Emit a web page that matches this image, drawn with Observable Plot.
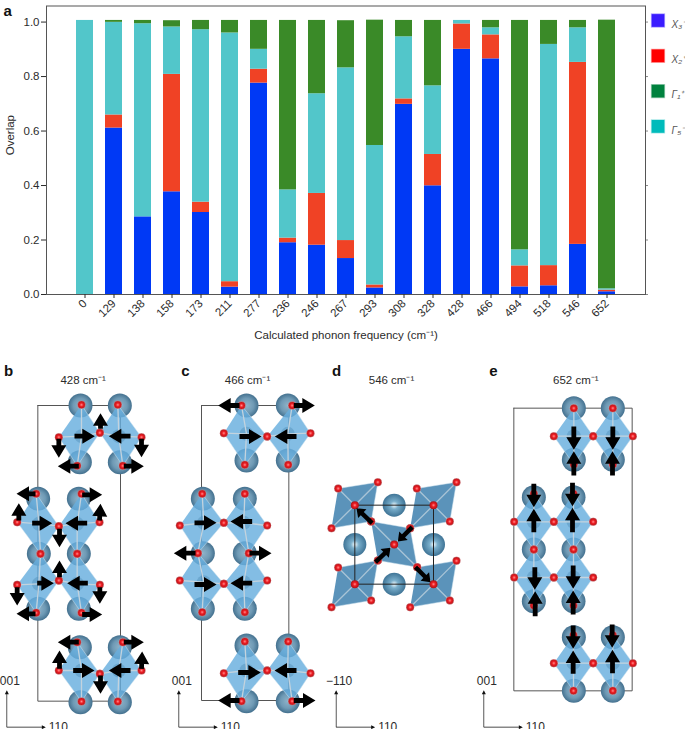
<!DOCTYPE html>
<html><head><meta charset="utf-8">
<script src="https://cdn.jsdelivr.net/npm/d3@7"></script>
<script src="https://cdn.jsdelivr.net/npm/@observablehq/plot@0.6"></script>
<style>html,body{margin:0;padding:0;background:#fff}svg{display:block}</style>
</head><body><div id="chart"></div>
<script>
// ---- panel a data
const frequencies = ["0","129","138","158","173","211","277","236","246","267","293","308","328","428","466","494","518","546","652"];
const seriesX3 = [0,.611,.285,.377,.301,.027,.776,.190,.181,.132,.024,.698,.399,.900,.865,.028,.032,.184,.010];
const seriesX2 = [0,.048,0,.431,.038,.020,.051,.017,.190,.066,.011,.020,.115,.093,.088,.077,.074,.668,.006];
const seriesG5 = [1.006,.340,.709,.174,.633,.913,.073,.177,.366,.634,.512,.228,.252,.013,.026,.059,.812,.127,.005];
const seriesG1 = [0,.007,.012,.023,.034,.046,.106,.622,.269,.173,.460,.060,.240,0,.027,.842,.088,.027,.986];
const stackNames = ["X3","X2","G5","G1"];
const stackColors = ["#0039f5","#f04225","#52c6ca","#3a8a28"];
const legendLabels = ["X₃⁻","X₂⁺","Γ₁⁺","Γ₅⁻"];
const legendColors = ["#3a1cff","#ff0000","#00823e","#00bbbb"];
const yTicks = [0,.2,.4,.6,.8,1];

// ---- panels b-e: positions, one row per octahedron: centre, top, right, bottom, left
const octasB = [
 [243,227,243,133,298,217,230,316,175,230],[355,227,352,133,423,230,367,316,298,217],
 [115,490,107,400,175,497,120,580,50,485],[230,490,243,400,297,485,230,580,175,497],
 [115,670,120,580,175,660,107,757,50,673],[230,670,230,580,298,673,243,757,175,660],
 [243,930,230,845,298,940,243,1023,175,930],[355,930,367,845,423,930,352,1023,298,940]];
const ballsB = [[240,135],[358,135],[238,305],[358,305],[113,415],[235,415],[115,580],[235,580],[113,745],[235,745],[238,860],[358,860],[240,1025],[358,1025]];
const arrowsB = [[222,227,283,227],[390,227,325,227],[300,205,300,158],[175,235,175,292],[423,235,423,290],[235,317,172,317],[370,317,430,317],
 [105,400,48,400],[245,403,305,403],[55,480,55,428],[297,480,300,430],[95,488,155,488],[260,488,195,488],[177,505,177,560],[177,650,177,600],[110,668,160,668],[262,668,200,668],[50,680,50,735],[298,680,298,730],[105,760,48,760],[245,762,305,762],
 [235,845,172,845],[370,845,430,845],[177,925,177,870],[423,925,425,873],[218,930,282,930],[390,930,325,930],[300,945,300,1000]];
const octasC = [
 [243,220,228,135,305,228,238,313,175,218],[367,220,380,135,435,218,368,313,305,228],
 [115,487,110,400,175,487,97,578,43,495],[235,487,238,400,305,495,250,578,175,487],
 [115,665,97,578,175,670,110,755,43,660],[235,665,250,578,305,660,238,755,175,670],
 [243,930,238,843,305,930,228,1022,175,938],[367,930,368,843,435,938,380,1022,305,930]];
const ballsC = [[243,135],[367,135],[243,300],[367,300],[112,415],[238,415],[112,578],[238,578],[112,745],[238,745],[243,855],[367,855],[243,1022],[367,1022]];
const arrowsC = [[222,135,158,135],[385,135,448,135],[222,228,288,228],[393,228,328,228],[87,487,153,487],[260,483,195,483],[90,578,25,578],[252,578,318,578],[87,672,153,672],[260,668,195,668],[218,936,286,936],[393,930,327,930],[222,1020,158,1020],[385,1020,450,1020]];
const octasD = [
 [103,434,53,384,172,365,152,483,33,503],[339,434,289,384,408,365,388,483,269,503],
 [221,552,152,483,269,503,290,620,172,600],
 [103,671,53,621,172,600,152,720,33,740],[339,671,290,620,408,601,388,720,269,740]];
const ballsD = [[221,434],[103,552],[339,552],[221,671]];
const arrowsD = [[155,488,108,443],[275,500,232,543],[165,605,210,562],[285,620,330,665]];
const octasE = [
 [250,227,250,143,308,227,250,312,190,227],[367,227,367,143,427,227,367,312,308,227],
 [130,484,130,400,190,484,130,567,71,484],[249,484,249,400,308,484,249,567,190,484],
 [130,651,130,567,190,651,130,735,71,651],[249,651,249,567,308,651,249,735,190,651],
 [249,908,249,824,308,908,249,991,190,908],[367,908,367,824,427,908,367,991,308,908]];
const ballsE = [[250,143],[367,143],[250,298],[367,298],[130,410],[249,410],[130,567],[249,567],[130,722],[249,722],[250,830],[367,830],[250,991],[367,991]];
const arrowsE = [[250,198,250,268],[367,198,367,268],[250,345,250,272],[366,345,366,272],[130,370,130,440],[246,367,246,437],[130,515,130,445],[246,515,246,442],[133,620,133,688],[248,615,248,685],[134,767,134,692],[248,762,248,690],[248,795,248,865],[365,792,365,862],[248,940,248,870],[366,938,366,868]];

const panelNames = ["b","c","d","e"];
const panelOffsets = [0,165,320,490];
const panelTitles = ["428 cm⁻¹","466 cm⁻¹","546 cm⁻¹","652 cm⁻¹"];
const panelTitleX = [248,246,213,256];
const panelLetterX = [8,185,336,493];
const panelBoxes = [[112,135,360,1022],[108,135,370,1020],[103,434,339,671],[70,143,425,991]];
const axisLabelUp = ["001","001","−110","001"];
const axisLabelRight = ["110","110","110","110"];
const axisOrigin = [[19,1100],[40,1100],[47,1100],[-20,1100]];

// ---- panel a
const rows = [seriesX3,seriesX2,seriesG5,seriesG1].flatMap((s,k)=>s.map((v,i)=>({f:frequencies[i],v,name:stackNames[k]}))).filter(d=>d.v>0);
const font = "'Liberation Sans',Arial,sans-serif";
const ink = "#2b2b2b";
const legendMarks = legendLabels.flatMap((t,i)=>[
  Plot.dot([t],{frameAnchor:"top-right",dx:12.5,dy:14.5+35.3*i,symbol:"square",r:7.2,fill:legendColors[i],stroke:legendColors[i],strokeOpacity:.35}),
  Plot.text([t],{frameAnchor:"top-right",dx:26,dy:14.5+35.3*i,text:d=>d,textAnchor:"start",fontStyle:"italic",fontSize:10,fill:"#555"})
]);
const chartA = Plot.plot({
  width:685,height:350,marginLeft:46,marginRight:40,marginTop:5.5,marginBottom:56,
  style:{fontFamily:font,fontSize:"11.5px",color:ink,background:"#fff",overflow:"visible"},
  x:{type:"band",domain:frequencies,paddingInner:.406,paddingOuter:.92,align:.5},
  y:{domain:[0,1.059]},
  color:{domain:stackNames,range:stackColors},
  marks:[
    Plot.barY(rows,{x:"f",y:"v",fill:"name",order:stackNames}),
    Plot.frame({stroke:"#555",strokeWidth:1}),
    Plot.axisY({ticks:yTicks,tickFormat:".1f",tickSize:5,tickPadding:2,label:null,fontSize:11.5}),
    Plot.axisY({anchor:"right",ticks:yTicks,tickFormat:()=>"",tickSize:2,label:null,stroke:"#888"}),
    Plot.axisX({tickRotate:-45,tickSize:4,tickPadding:3,label:null,fontSize:11.5}),
    Plot.text(["Overlap"],{frameAnchor:"left",dx:-36,dy:5,rotate:-90,fontSize:11.5,fill:ink}),
    Plot.text(["Calculated phonon frequency (cm⁻¹)"],{frameAnchor:"bottom",dx:-0,dy:44,fontSize:11.5,fill:ink}),
    Plot.text(["a"],{frameAnchor:"top-left",dx:-43,dy:-1,fontWeight:"bold",fontSize:15,fill:"#111"}),
    ...legendMarks
  ]
});

// ---- panels b-e
const octaSets=[octasB,octasC,octasD,octasE], ballSets=[ballsB,ballsC,ballsD,ballsE], arrowSets=[arrowsB,arrowsC,arrowsD,arrowsE];
const px=(p,x)=>panelOffsets[p]+x/3, py=y=>360+y/3;
const blockShape=(hw,hl,sw)=>({draw(c,l){
  c.moveTo(-sw,0);c.lineTo(sw,0);c.lineTo(sw,-(l-hl));c.lineTo(hw,-(l-hl));c.lineTo(0,-l);c.lineTo(-hw,-(l-hl));c.lineTo(-sw,-(l-hl));c.closePath();
}});
const toVec=(p,a)=>{const x1=px(p,a[0]),y1=py(a[1]),x2=px(p,a[2]),y2=py(a[3]);
  return {x:x1,y:y1,l:Math.hypot(x2-x1,y2-y1),r:Math.atan2(x2-x1,y1-y2)*180/Math.PI};};
const defsMark=()=>{
  const d=d3.create("svg:defs");
  const grad=(id,stops)=>{const g=d.append("radialGradient").attr("id",id);stops.forEach(([o,c])=>g.append("stop").attr("offset",o).attr("stop-color",c));};
  grad("ball",[[0,"#8fb3c9"],[.6,"#6f9ab5"],[1,"#44718f"]]);
  grad("ballD",[[0,"#f2fbff"],[.35,"#79aecb"],[1,"#3f7496"]]);
  grad("oxy",[[0,"#ff8d8d"],[.45,"#ee1c22"],[1,"#a81419"]]);
  return d.node();
};
const structMarks=octaSets.flatMap((octas,p)=>{
  const isD=p===2, vecs=arrowSets[p].map(a=>toVec(p,a));
  const b=panelBoxes[p], boxPts=[[b[0],b[1]],[b[2],b[1]],[b[2],b[3]],[b[0],b[3]],[b[0],b[1]]].map(q=>({x:px(p,q[0]),y:py(q[1])}));
  const balls=ballSets[p].map(q=>({x:px(p,q[0]),y:py(q[1])}));
  const poly=octas.flatMap((o,i)=>[2,4,6,8].map(k=>({x:px(p,o[k]),y:py(o[k+1]),id:i})));
  const bonds=octas.flatMap((o,i)=>[2,4,6,8].flatMap(k=>[{x:px(p,o[0]),y:py(o[1]),id:i*10+k},{x:px(p,o[k]),y:py(o[k+1]),id:i*10+k}]));
  const centers=octas.map(o=>({x:px(p,o[0]),y:py(o[1])}));
  const oxy=octas.flatMap(o=>[2,4,6,8].map(k=>({x:px(p,o[k]),y:py(o[k+1])})));
  const box=Plot.line(boxPts,{x:"x",y:"y",stroke:isD?"#222":"#555",strokeWidth:1});
  const o=axisOrigin[p], ox=px(p,o[0]), oy=py(o[1]);
  const axisVec=[{x:ox,y:oy,l:37,r:0},{x:ox,y:oy,l:39,r:90}];
  return [
    isD?null:box,
    Plot.dot(balls,{x:"x",y:"y",r:isD?11.5:12,fill:isD?"url(#ballD)":"url(#ball)"}),
    Plot.line(poly,{x:"x",y:"y",z:"id",fill:isD?"#5b93ba":"#68aede",fillOpacity:isD?1:.82,stroke:"#cfe2ee",strokeWidth:.5}),
    isD?box:null,
    isD?null:Plot.dot(centers,{x:"x",y:"y",r:7,fill:"#4f8db8",fillOpacity:.45}),
    Plot.line(bonds,{x:"x",y:"y",z:"id",stroke:isD?"#a9c4d6":"#c3d3de",strokeWidth:1.3}),
    Plot.dot(oxy,{x:"x",y:"y",r:4,fill:"url(#oxy)",stroke:"#fff",strokeOpacity:.5,strokeWidth:.5}),
    isD?Plot.dot(centers,{x:"x",y:"y",r:4,fill:"url(#oxy)"}):null,
    Plot.vector(vecs,{x:"x",y:"y",length:"l",rotate:"r",anchor:"start",fill:"#000",stroke:"none",shape:isD?blockShape(6,8,2.2):blockShape(7.5,12.5,2.4)}),
    Plot.vector(axisVec,{x:"x",y:"y",length:"l",rotate:"r",anchor:"start",fill:"#111",stroke:"none",shape:blockShape(2,4,.35)}),
    Plot.text([axisLabelUp[p]],{x:()=>ox+(isD?3:3),y:()=>oy-46,fontSize:12,fill:ink}),
    Plot.text([axisLabelRight[p]],{x:()=>ox+42,y:()=>oy,textAnchor:"start",fontSize:12,fill:ink}),
    Plot.text([panelTitles[p]],{x:()=>px(0,panelTitleX[p])+panelOffsets[p],y:()=>380,fontSize:11.5,fill:ink}),
    Plot.text([panelNames[p]],{x:()=>panelLetterX[p],y:()=>371,fontWeight:"bold",fontSize:15,fill:"#111"})
  ].filter(Boolean);
});
const chartB = Plot.plot({
  width:685,height:379,margin:0,
  style:{fontFamily:font,background:"#fff",overflow:"visible"},
  x:{domain:[0,685],range:[0,685],axis:null},
  y:{domain:[350,729],range:[0,379],axis:null},
  length:{type:"identity"},
  marks:[defsMark,...structMarks]
});
const root=document.getElementById("chart");
root.append(chartA,chartB);
</script></body></html>
